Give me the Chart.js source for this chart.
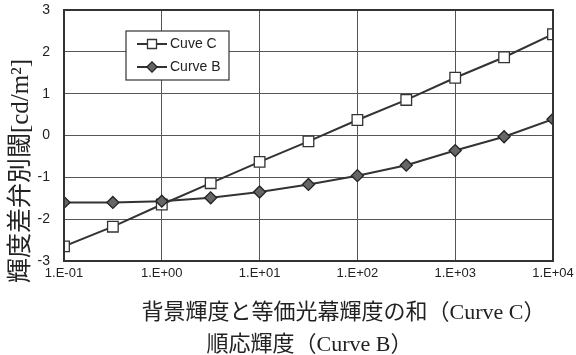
<!DOCTYPE html>
<html>
<head>
<meta charset="utf-8">
<script src="https://cdn.jsdelivr.net/npm/chart.js@4/dist/chart.umd.min.js"></script>
<style>
html,body{margin:0;padding:0;background:#fff;}
#wrap{position:relative;width:576px;height:355px;}
</style>
</head>
<body>
<div id="wrap"><canvas id="c" width="576" height="355"></canvas></div>
<script>
// ---- data ----
const xValues = [0.1, 0.316, 1, 3.16, 10, 31.6, 100, 316, 1000, 3162, 10000];
const curveC = [-2.65, -2.18, -1.65, -1.14, -0.63, -0.14, 0.37, 0.85, 1.38, 1.87, 2.42];
const curveB = [-1.60, -1.60, -1.57, -1.49, -1.35, -1.17, -0.96, -0.71, -0.36, -0.03, 0.39];
const xTickValues = [0.1, 1, 10, 100, 1000, 10000];
const xTickLabels = ['1.E-01', '1.E+00', '1.E+01', '1.E+02', '1.E+03', '1.E+04'];
const seriesNames = ['Cuve C', 'Curve B'];
const yTitle = '輝度差弁別閾[cd/m²]';
const xTitleLines = ['背景輝度と等価光幕輝度の和（Curve C）', '順応輝度（Curve B）'];

const dark = '#333';
const gridCol = '#555';
const serifCJK = '"Liberation Serif", "Noto Sans CJK JP", serif';

const frameAndTitles = {
  id: 'frameAndTitles',
  afterDraw(chart) {
    const ctx = chart.ctx, a = chart.chartArea;
    ctx.save();
    // frame
    ctx.strokeStyle = dark; ctx.lineWidth = 2;
    ctx.strokeRect(a.left, a.top, a.right - a.left, a.bottom - a.top);
    // y title
    ctx.fillStyle = '#222';
    ctx.font = '25px ' + serifCJK;
    ctx.textAlign = 'center'; ctx.textBaseline = 'middle';
    ctx.translate(21, 171);
    ctx.rotate(-Math.PI / 2);
    ctx.fillText(yTitle, 0, 0);
    ctx.restore();
    ctx.save();
    ctx.fillStyle = '#222';
    ctx.font = '22px ' + serifCJK;
    ctx.textAlign = 'center'; ctx.textBaseline = 'middle';
    const cx = (a.left + a.right) / 2;
    ctx.fillText(xTitleLines[0], cx + 35, a.bottom + 52);
    ctx.fillText(xTitleLines[1], cx + 1, a.bottom + 84);
    ctx.restore();
    // legend
    ctx.save();
    const lx = a.left + 62, ly = a.top + 21, lw = 103, lh = 49;
    ctx.fillStyle = '#fff';
    ctx.fillRect(lx, ly, lw, lh);
    ctx.strokeStyle = dark; ctx.lineWidth = 1.2;
    ctx.strokeRect(lx, ly, lw, lh);
    const rows = [ly + 13, ly + 36];
    chart.data.datasets.forEach((ds, i) => {
      const y = rows[i];
      ctx.strokeStyle = ds.borderColor; ctx.lineWidth = 2;
      ctx.beginPath(); ctx.moveTo(lx + 11, y); ctx.lineTo(lx + 41, y); ctx.stroke();
      ctx.fillStyle = ds.pointBackgroundColor;
      ctx.strokeStyle = ds.pointBorderColor;
      ctx.lineWidth = ds.pointBorderWidth;
      Chart.helpers.drawPoint(ctx, {pointStyle: ds.pointStyle, rotation: 0, radius: ds.pointRadius * 0.85, borderWidth: ds.pointBorderWidth}, lx + 26, y);
      ctx.fillStyle = '#222';
      ctx.font = '14px "Liberation Sans", Arial, sans-serif';
      ctx.textAlign = 'left'; ctx.textBaseline = 'middle';
      ctx.fillText(ds.label, lx + 44, y);
    });
    ctx.restore();
  }
};

new Chart(document.getElementById('c'), {
  type: 'line',
  data: {
    datasets: [
      {
        label: seriesNames[0],
        data: xValues.map((x, i) => ({x: x, y: curveC[i]})),
        borderColor: dark, borderWidth: 2,
        pointStyle: 'rect', pointRadius: 7.5,
        pointBackgroundColor: '#fff', pointBorderColor: dark, pointBorderWidth: 1.3,
        order: 1
      },
      {
        label: seriesNames[1],
        data: xValues.map((x, i) => ({x: x, y: curveB[i]})),
        borderColor: dark, borderWidth: 2,
        pointStyle: 'rectRot', pointRadius: 6,
        pointBackgroundColor: '#666', pointBorderColor: '#222', pointBorderWidth: 1.3,
        order: 0
      }
    ]
  },
  options: {
    responsive: false,
    animation: false,
    devicePixelRatio: 1,
    layout: {padding: {top: 10, right: 23, left: 0, bottom: 0}},
    plugins: {legend: {display: false}, tooltip: {enabled: false}},
    scales: {
      x: {
        type: 'logarithmic', min: 0.1, max: 10000,
        afterBuildTicks: s => { s.ticks = xTickValues.map(v => ({value: v})); },
        afterFit: s => { s.height = 94; s.paddingLeft = 0; s.paddingRight = 0; },
        ticks: {
          autoSkip: false, maxRotation: 0, padding: 5, color: '#222',
          font: {family: '"Liberation Sans", Arial, sans-serif', size: 13},
          callback: (v) => { const k = xTickValues.indexOf(v); return k >= 0 ? xTickLabels[k] : ''; }
        },
        grid: {color: gridCol, lineWidth: 1, drawTicks: false},
        border: {color: dark, width: 2}
      },
      y: {
        min: -3, max: 3,
        afterFit: s => { s.width = 64; s.paddingTop = 0; s.paddingBottom = 0; },
        ticks: {
          stepSize: 1, padding: 14, color: '#222',
          font: {family: '"Liberation Sans", Arial, sans-serif', size: 14}
        },
        grid: {color: gridCol, lineWidth: 1, drawTicks: false},
        border: {color: dark, width: 2}
      }
    }
  },
  plugins: [frameAndTitles]
});
</script>
</body>
</html>
